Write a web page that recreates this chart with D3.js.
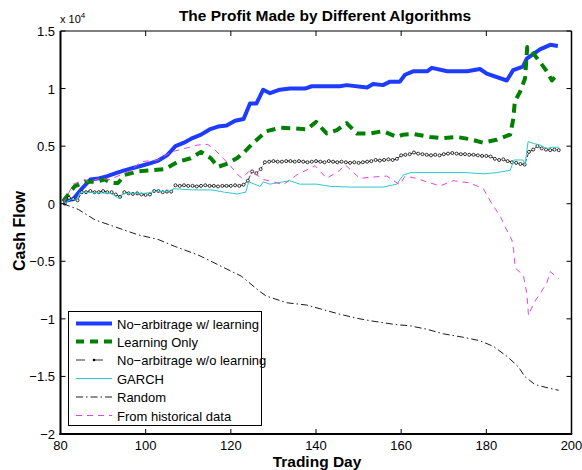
<!DOCTYPE html>
<html lang="en">
<head>
<meta charset="UTF-8" />
<title>The Profit Made by Different Algorithms</title>
<style>
  body { margin: 0; background: #fff; }
  svg text { font-family: "Liberation Sans", Arial, Helvetica, sans-serif; fill: #000; }
</style>
</head>
<body>
<svg width="582" height="470"></svg>
<script src="https://cdnjs.cloudflare.com/ajax/libs/d3/7.8.5/d3.min.js"></script>
<script>
// values are in units of 10^4
const xTicks = [80, 100, 120, 140, 160, 180, 200];
const yTicks = [-2, -1.5, -1, -0.5, 0, 0.5, 1, 1.5];

const noArbLearnDays = [80.6, 83, 85, 87, 89, 91, 93, 95, 97, 99, 101, 103, 105, 107, 109, 111, 113, 115, 117, 119, 121, 123, 124.5, 126, 127.6, 129.2, 131.5, 133.9, 137.4, 139, 142.6, 145.6, 147.2, 152, 153.4, 155.7, 157.4, 159.7, 160.9, 162.8, 166.1, 167.2, 170.8, 175.5, 178.5, 180.1, 184.8, 186.3, 188.6, 189.5, 192.6, 195, 196.8];
const noArbLearnVals = [0.02, 0.04, 0.13, 0.21, 0.22, 0.24, 0.265, 0.29, 0.31, 0.33, 0.35, 0.375, 0.42, 0.5, 0.53, 0.57, 0.6, 0.645, 0.67, 0.68, 0.72, 0.735, 0.87, 0.87, 0.99, 0.96, 0.99, 1.0, 1.0, 1.02, 1.02, 1.02, 1.03, 1.01, 1.04, 1.03, 1.06, 1.06, 1.12, 1.15, 1.15, 1.18, 1.15, 1.15, 1.17, 1.13, 1.07, 1.16, 1.19, 1.26, 1.34, 1.38, 1.37];

const learnOnlyDays = [80.6, 83.3, 85.7, 88, 90.4, 91.9, 93.5, 95.1, 98.2, 101.3, 104.5, 107.6, 110.6, 113, 115.3, 117, 119.3, 121.6, 122.9, 125.2, 128.4, 131.6, 134.6, 137.8, 140, 142.5, 144.9, 147.2, 149.6, 152.7, 155.7, 159, 160.4, 162.8, 166.8, 169.8, 173, 176.2, 179.2, 182.4, 185.6, 186.3, 186.7, 187.9, 189.1, 189.6, 190.3, 192.6, 194.2, 195.4, 196.5];
const learnOnlyVals = [0.02, 0.15, 0.19, 0.19, 0.21, 0.18, 0.18, 0.25, 0.28, 0.29, 0.3, 0.365, 0.395, 0.45, 0.395, 0.32, 0.35, 0.4, 0.44, 0.525, 0.63, 0.66, 0.655, 0.645, 0.71, 0.61, 0.64, 0.7, 0.61, 0.61, 0.63, 0.58, 0.6, 0.605, 0.58, 0.57, 0.58, 0.56, 0.53, 0.555, 0.6, 0.73, 0.89, 0.97, 1.09, 1.36, 1.34, 1.23, 1.15, 1.07, 1.12];

const noArbDays = [81, 82, 83, 84, 85, 86, 87, 88, 89, 90, 91, 92, 93, 94, 95, 96, 97, 98, 99, 100, 101, 102, 103, 104, 105, 106, 107, 108, 109, 110, 111, 112, 113, 114, 115, 116, 117, 118, 119, 120, 121, 122, 123, 124, 125, 126, 127, 128, 129, 130, 131, 132, 133, 134, 135, 136, 137, 138, 139, 140, 141, 142, 143, 144, 145, 146, 147, 148, 149, 150, 151, 152, 153, 154, 155, 156, 157, 158, 159, 160, 161, 162, 163, 164, 165, 166, 167, 168, 169, 170, 171, 172, 173, 174, 175, 176, 177, 178, 179, 180, 181, 182, 183, 184, 185, 186, 187, 188, 189, 190, 191, 192, 193, 194, 195, 196, 197];
const noArbVals = [0.0, 0.05, 0.04, 0.03, 0.1, 0.1, 0.11, 0.1, 0.1, 0.11, 0.1, 0.1, 0.08, 0.06, 0.1, 0.09, 0.085, 0.09, 0.08, 0.077, 0.08, 0.11, 0.11, 0.1, 0.105, 0.105, 0.16, 0.155, 0.16, 0.155, 0.155, 0.15, 0.155, 0.16, 0.155, 0.155, 0.15, 0.155, 0.155, 0.155, 0.16, 0.155, 0.165, 0.2, 0.28, 0.265, 0.3, 0.36, 0.365, 0.37, 0.365, 0.365, 0.37, 0.37, 0.365, 0.37, 0.365, 0.36, 0.365, 0.37, 0.365, 0.36, 0.37, 0.365, 0.36, 0.365, 0.36, 0.355, 0.36, 0.355, 0.36, 0.365, 0.37, 0.38, 0.375, 0.38, 0.385, 0.38, 0.39, 0.42, 0.425, 0.43, 0.445, 0.435, 0.43, 0.425, 0.42, 0.425, 0.42, 0.43, 0.435, 0.44, 0.435, 0.43, 0.43, 0.425, 0.425, 0.42, 0.415, 0.415, 0.41, 0.39, 0.38, 0.385, 0.37, 0.36, 0.355, 0.345, 0.34, 0.45, 0.47, 0.5, 0.48, 0.47, 0.465, 0.47, 0.465];

const garchDays = [80.6, 82.6, 83.8, 84.6, 86, 91.8, 93.6, 95, 100, 102, 106, 106.5, 111, 115.5, 118.5, 121.5, 123.5, 124.2, 126.9, 127.6, 129.2, 133.8, 136.2, 140.2, 143.4, 148, 152.7, 155.8, 159, 160.5, 162.3, 175.4, 179.3, 182.4, 185.6, 186.5, 188.6, 189.1, 189.8, 191.4, 192.6, 194.2, 195.5, 197];
const garchVals = [0, 0.04, 0.03, 0.1, 0.1, 0.09, 0.05, 0.09, 0.09, 0.105, 0.11, 0.13, 0.12, 0.12, 0.1, 0.085, 0.1, 0.19, 0.15, 0.19, 0.17, 0.2, 0.17, 0.17, 0.15, 0.145, 0.145, 0.145, 0.17, 0.25, 0.27, 0.27, 0.26, 0.27, 0.29, 0.38, 0.38, 0.34, 0.54, 0.52, 0.51, 0.48, 0.49, 0.49];

const randomDays = [80.6, 84.2, 88.1, 93.5, 98.2, 102.9, 106.8, 112.3, 117, 122.5, 126.4, 128.2, 133.1, 137.8, 141.7, 145.6, 150.3, 153.4, 158.8, 162, 166, 169.9, 174.6, 178.5, 181.7, 185, 187.6, 189, 191.4, 194.5, 197];
const randomVals = [0, -0.05, -0.14, -0.21, -0.27, -0.31, -0.37, -0.445, -0.53, -0.63, -0.75, -0.8, -0.86, -0.88, -0.92, -0.96, -1.0, -1.02, -1.05, -1.06, -1.09, -1.13, -1.16, -1.19, -1.24, -1.33, -1.42, -1.5, -1.57, -1.6, -1.62];

const histDays = [80.6, 83, 85.7, 86.5, 89.2, 91.6, 96.6, 98.9, 102.9, 106, 109.2, 112.3, 114.6, 116.2, 117.8, 120.1, 121.7, 122.7, 124.2, 126.1, 127.7, 130, 132.3, 135.5, 139.8, 142.5, 145.6, 146.8, 150.3, 152.7, 156.6, 159.7, 160.9, 163.6, 166, 169.1, 172.3, 176.2, 179.3, 181.3, 183.3, 184.4, 186, 186.4, 186.8, 188.7, 189.5, 189.9, 191.1, 192.6, 194.2, 195, 197];
const histVals = [0, 0.17, 0.21, 0.19, 0.22, 0.21, 0.29, 0.365, 0.38, 0.45, 0.48, 0.51, 0.515, 0.47, 0.41, 0.32, 0.25, 0.22, 0.28, 0.25, 0.21, 0.19, 0.165, 0.25, 0.33, 0.22, 0.29, 0.34, 0.22, 0.23, 0.24, 0.165, 0.24, 0.22, 0.19, 0.155, 0.2, 0.18, 0.13, 0.0, -0.11, -0.2, -0.315, -0.4, -0.56, -0.62, -0.78, -0.97, -0.865, -0.78, -0.69, -0.59, -0.65];

const seriesNames = ["No\u2212arbitrage w/ learning", "Learning Only", "No\u2212arbitrage w/o learning", "GARCH", "Random", "From historical data"];

const series = [
  { name: seriesNames[0], days: noArbLearnDays, vals: noArbLearnVals, color: "#1e3cff", width: 4, dash: null },
  { name: seriesNames[1], days: learnOnlyDays, vals: learnOnlyVals, color: "#008000", width: 4, dash: "9,6" },
  { name: seriesNames[2], days: noArbDays, vals: noArbVals, color: "#000", width: 0.8, dash: "4,2", marker: true },
  { name: seriesNames[3], days: garchDays, vals: garchVals, color: "#2cc8cc", width: 1, dash: null },
  { name: seriesNames[4], days: randomDays, vals: randomVals, color: "#000", width: 0.9, dash: "7,3,1.5,3" },
  { name: seriesNames[5], days: histDays, vals: histVals, color: "#e045e0", width: 1, dash: "6,5" }
];

const svg = d3.select("svg");
const pLeft = 60.5, pRight = 571.5, pTop = 31, pBottom = 434;

const x = d3.scaleLinear().domain([80, 200]).range([pLeft, pRight]);
const y = d3.scaleLinear().domain([-2, 1.5]).range([pBottom, pTop]);

svg.append("clipPath").attr("id", "clip")
  .append("rect").attr("x", pLeft).attr("y", pTop)
  .attr("width", pRight - pLeft).attr("height", pBottom - pTop);

const fmt = d => String(d).replace("-", "\u2212");

// tick labels
svg.append("g").selectAll("text").data(xTicks).join("text")
  .attr("x", d => x(d)).attr("y", 450)
  .attr("text-anchor", "middle").attr("font-size", 13)
  .text(d => d);
svg.append("g").selectAll("text").data(yTicks).join("text")
  .attr("x", 55).attr("y", d => y(d) + 5)
  .attr("text-anchor", "end").attr("font-size", 13)
  .text(fmt);

// lines
const plot = svg.append("g").attr("clip-path", "url(#clip)");
series.forEach(s => {
  const pts = s.days.map((d, i) => [d, s.vals[i]]);
  const line = d3.line().x(p => x(p[0])).y(p => y(p[1]));
  plot.append("path")
    .datum(pts)
    .attr("d", line)
    .attr("fill", "none")
    .attr("stroke", s.color)
    .attr("stroke-width", s.width)
    .attr("stroke-linejoin", "round")
    .attr("stroke-dasharray", s.dash);
  if (s.marker) {
    plot.append("g").selectAll("circle").data(pts).join("circle")
      .attr("cx", p => x(p[0])).attr("cy", p => y(p[1]))
      .attr("r", 1.5)
      .attr("fill", "#fff").attr("stroke", "#000").attr("stroke-width", 0.8);
  }
});

// box and ticks
const axes = svg.append("g").attr("stroke", "#000");
axes.append("line").attr("x1", pLeft).attr("x2", pRight).attr("y1", pTop).attr("y2", pTop).attr("stroke-width", 1.2);
axes.append("line").attr("x1", pRight).attr("x2", pRight).attr("y1", pTop).attr("y2", pBottom).attr("stroke-width", 1.5);
axes.append("line").attr("x1", pLeft).attr("x2", pLeft).attr("y1", pTop).attr("y2", pBottom + 1).attr("stroke-width", 2);
axes.append("line").attr("x1", pLeft - 1).attr("x2", pRight + 0.75).attr("y1", pBottom).attr("y2", pBottom).attr("stroke-width", 2);
xTicks.forEach(t => {
  axes.append("line").attr("x1", x(t)).attr("x2", x(t)).attr("y1", pBottom).attr("y2", pBottom - 5).attr("stroke-width", 1);
  axes.append("line").attr("x1", x(t)).attr("x2", x(t)).attr("y1", pTop).attr("y2", pTop + 5).attr("stroke-width", 1);
});
yTicks.forEach(t => {
  axes.append("line").attr("x1", pLeft).attr("x2", pLeft + 5).attr("y1", y(t)).attr("y2", y(t)).attr("stroke-width", 1);
  axes.append("line").attr("x1", pRight).attr("x2", pRight - 5).attr("y1", y(t)).attr("y2", y(t)).attr("stroke-width", 1);
});

// exponent label
const ex = svg.append("text").attr("x", 60).attr("y", 23).attr("font-size", 11);
ex.append("tspan").text("x 10");
ex.append("tspan").attr("dy", -5).attr("font-size", 8).text("4");

// titles
svg.append("text").attr("x", 325).attr("y", 21)
  .attr("text-anchor", "middle").attr("font-size", 15.5).attr("font-weight", "bold")
  .text("The Profit Made by Different Algorithms");
svg.append("text").attr("x", 317).attr("y", 467)
  .attr("text-anchor", "middle").attr("font-size", 15.5).attr("font-weight", "bold")
  .text("Trading Day");
svg.append("text").attr("transform", "translate(25,231) rotate(-90)")
  .attr("text-anchor", "middle").attr("font-size", 16).attr("font-weight", "bold")
  .text("Cash Flow");

// legend
const lg = svg.append("g");
lg.append("rect").attr("x", 68.5).attr("y", 311.5).attr("width", 193).attr("height", 114)
  .attr("fill", "#fff").attr("stroke", "#000").attr("stroke-width", 1);
const rowY = [323.5, 341.5, 360, 378.5, 397, 415.5];
series.forEach((s, i) => {
  lg.append("line").attr("x1", 76).attr("x2", 112).attr("y1", rowY[i]).attr("y2", rowY[i])
    .attr("stroke", s.color).attr("stroke-width", s.width)
    .attr("stroke-dasharray", i === 1 ? "8,6" : (i === 2 ? "9,9" : (i === 4 ? "7,3,1.5,3" : s.dash)));
  if (s.marker) {
    lg.append("circle").attr("cx", 94).attr("cy", rowY[i]).attr("r", 1.3).attr("fill", "#000");
  }
  lg.append("text").attr("x", 117).attr("y", rowY[i] + 5).attr("font-size", 13).text(s.name);
});
</script>
</body>
</html>
